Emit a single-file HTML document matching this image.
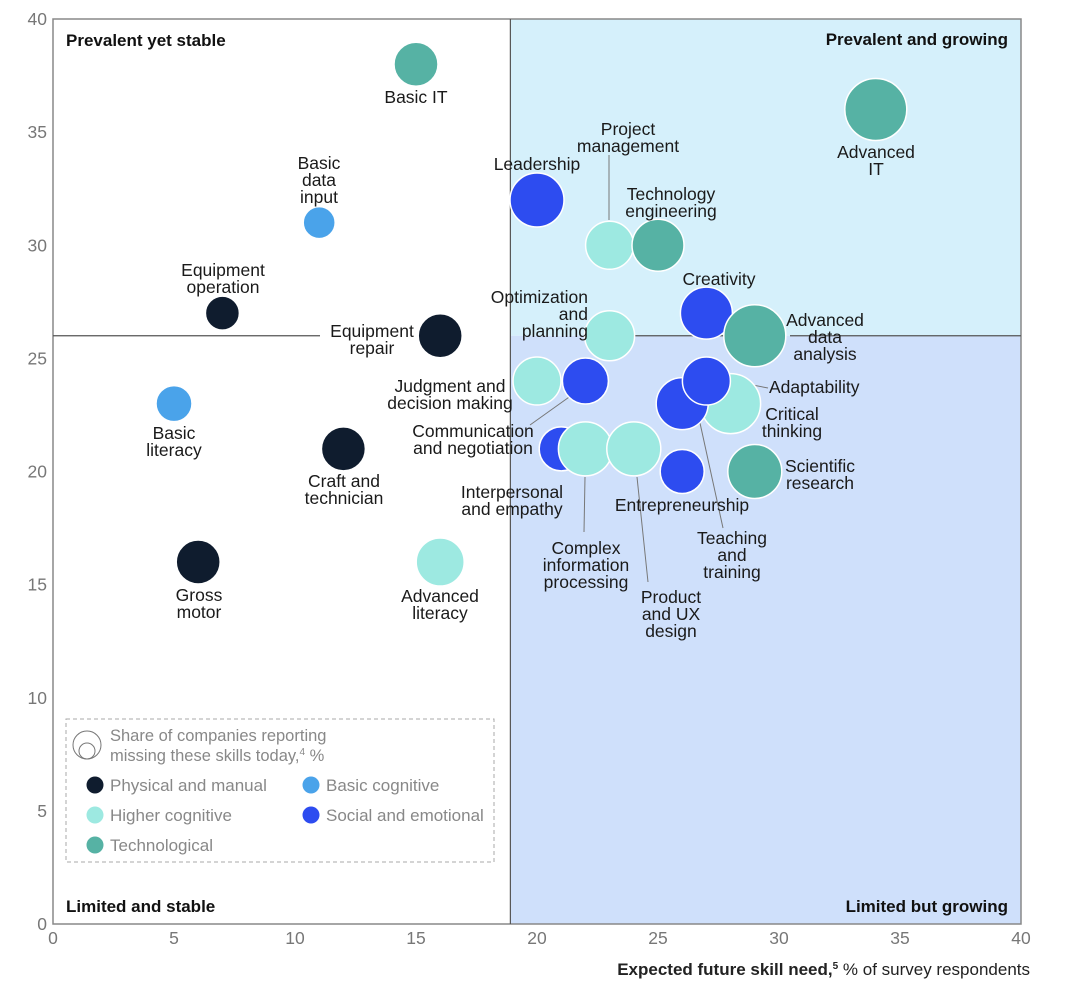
<!DOCTYPE html>
<html><head><meta charset="utf-8"><style>
body{margin:0;background:#fff;}
svg text{font-family:"Liberation Sans",sans-serif;}
</style></head><body>
<svg id="chart" width="1080" height="991" viewBox="0 0 1080 991">
<g id="bg"></g><g id="axes"></g><g id="lines"></g><g id="bubbles"></g><g id="labels"></g><g id="legend"></g>
</svg>
<script>
const skillNames=["Basic IT","Advanced IT","Leadership","Basic data input","Project management","Technology engineering","Equipment operation","Equipment repair","Optimization and planning","Creativity","Advanced data analysis","Judgment and decision making","Communication and negotiation","Basic literacy","Critical thinking","Teaching and training","Adaptability","Craft and technician","Interpersonal and empathy","Complex information processing","Product and UX design","Entrepreneurship","Scientific research","Gross motor","Advanced literacy"];
const futureNeed=[15,34,20,11,23,25,7,16,23,27,29,20,22,5,28,26,27,12,21,22,24,26,29,6,16];
const prevalence=[38,36,32,31,30,30,27,26,26,27,26,24,24,23,23,23,24,21,21,21,21,20,20,16,16];
const missingShare=[22,31,27,16,24,26,17,22,25,26,31,24,23,18,30,26,24,22,22,27,27,22,27,22,24];
const categories=["tech","tech","social","basic","higher","tech","physical","physical","higher","social","tech","higher","social","basic","higher","social","social","physical","social","higher","higher","social","tech","physical","higher"];
const xTicks=[0,5,10,15,20,25,30,35,40];
const yTicks=[0,5,10,15,20,25,30,35,40];
const colors={physical:"#0f1c2e",basic:"#4aa3ea",higher:"#9de9e1",social:"#2d4cf0",tech:"#56b2a4"};
const NS="http://www.w3.org/2000/svg";
const X0=53,X1=1021,Y0=924,Y1=19;
const xs=v=>X0+(v/40)*(X1-X0), ys=v=>Y0-(v/40)*(Y0-Y1);
function mk(t,a,p){const e=document.createElementNS(NS,t);for(const k in a)e.setAttribute(k,a[k]);p.appendChild(e);return e;}
const bg=document.getElementById('bg'),ax=document.getElementById('axes'),ln=document.getElementById('lines'),bb=document.getElementById('bubbles'),lb=document.getElementById('labels'),lg=document.getElementById('legend');
const xd=18.9,yd=26;
let r=mk('rect',{x:xs(xd),y:Y1,width:X1-xs(xd),height:ys(yd)-Y1,fill:'#d5f0fb'},bg);

r=mk('rect',{x:xs(xd),y:ys(yd),width:X1-xs(xd),height:Y0-ys(yd),fill:'#cfe0fb'},bg);

mk('rect',{x:X0,y:Y1,width:X1-X0,height:Y0-Y1,fill:'none',stroke:'#888','stroke-width':1.5},ax);
mk('line',{x1:xs(xd),x2:xs(xd),y1:Y1,y2:Y0,stroke:'#555','stroke-width':1.2},ax);
[[X0,320],[420,425],[590,750],[790,X1]].forEach(s=>mk('line',{x1:s[0],x2:s[1],y1:ys(yd),y2:ys(yd),stroke:'#555','stroke-width':1.2},ax));
xTicks.forEach(t=>{const e=mk('text',{x:xs(t),y:944,'font-size':17.5,fill:'#777','text-anchor':'middle'},ax);e.textContent=t;
});
yTicks.forEach(t=>{const e=mk('text',{x:47,y:ys(t)+6,'font-size':17.5,fill:'#777','text-anchor':'end'},ax);e.textContent=t;
});
let at=mk('text',{x:1030,y:975,'font-size':17,fill:'#222','text-anchor':'end'},ax);
at.innerHTML='<tspan font-weight="bold">Expected future skill need,</tspan><tspan font-size="10" dy="-6" font-weight="bold">5</tspan><tspan dy="6"> % of survey respondents</tspan>';

[["Prevalent yet stable",66,46,'start'],["Prevalent and growing",1008,45,'end'],["Limited and stable",66,912,'start'],["Limited but growing",1008,912,'end']].forEach(q=>{
const e=mk('text',{x:q[1],y:q[2],'font-size':17,'font-weight':'bold',fill:'#111','text-anchor':q[3]},ax);e.textContent=q[0];
});
[[609,155,609,220],[530,425,572,395],[585,477,584,532],[637,477,648,582],[700,423,723,528],[732,381,768,388]].forEach(l=>mk('line',{x1:l[0],y1:l[1],x2:l[2],y2:l[3],stroke:'#777','stroke-width':1},ln));
skillNames.forEach((n,i)=>{
const c=mk('circle',{cx:xs(futureNeed[i]),cy:ys(prevalence[i]),r:missingShare[i],fill:colors[categories[i]],stroke:'#fff','stroke-width':1.5},bb);


});
const labelPos=[
[["Basic IT"],416,103,'middle'],[["Advanced","IT"],876,158,'middle'],[["Leadership"],537,170,'middle'],
[["Basic","data","input"],319,169,'middle'],[["Project","management"],628,135,'middle'],[["Technology","engineering"],671,200,'middle'],
[["Equipment","operation"],223,276,'middle'],[["Equipment","repair"],372,337,'middle'],[["Optimization","and","planning"],588,303,'end'],
[["Creativity"],719,285,'middle'],[["Advanced","data","analysis"],825,326,'middle'],[["Judgment and","decision making"],450,392,'middle'],
[["Communication","and negotiation"],473,437,'middle'],[["Basic","literacy"],174,439,'middle'],[["Critical","thinking"],792,420,'middle'],
[["Teaching","and","training"],732,544,'middle'],[["Adaptability"],769,393,'start'],[["Craft and","technician"],344,487,'middle'],
[["Interpersonal","and empathy"],512,498,'middle'],[["Complex","information","processing"],586,554,'middle'],[["Product","and UX","design"],671,603,'middle'],
[["Entrepreneurship"],682,511,'middle'],[["Scientific","research"],820,472,'middle'],[["Gross","motor"],199,601,'middle'],[["Advanced","literacy"],440,602,'middle']];
labelPos.forEach(p=>{const e=mk('text',{x:p[1],y:p[2],'font-size':17.5,fill:'#1a1a1a','text-anchor':p[3]},lb);
p[0].forEach((s,k)=>{const t=mk('tspan',{x:p[1],dy:k?17:0},e);t.textContent=s;});
});
let lr=mk('rect',{x:66,y:719,width:428,height:143,fill:'none',stroke:'#aaa','stroke-dasharray':'4 3'},lg);

mk('circle',{cx:87,cy:745,r:14,fill:'none',stroke:'#777'},lg);mk('circle',{cx:87,cy:751,r:8,fill:'none',stroke:'#777'},lg);
let lt=mk('text',{x:110,y:741,'font-size':16.5,fill:'#888'},lg);
lt.innerHTML='<tspan x="110">Share of companies reporting</tspan><tspan x="110" dy="20">missing these skills today,</tspan><tspan font-size="10" dy="-6">4</tspan><tspan dy="6"> %</tspan>';

[["Physical and manual","physical",95,785],["Basic cognitive","basic",311,785],["Higher cognitive","higher",95,815],["Social and emotional","social",311,815],["Technological","tech",95,845]].forEach(l=>{
const g=mk('g',{},lg);
mk('circle',{cx:l[2],cy:l[3],r:8.5,fill:colors[l[1]]},g);
const t=mk('text',{x:l[2]+15,y:l[3]+6,'font-size':17,fill:'#888'},g);t.textContent=l[0];});
</script>
</body></html>
